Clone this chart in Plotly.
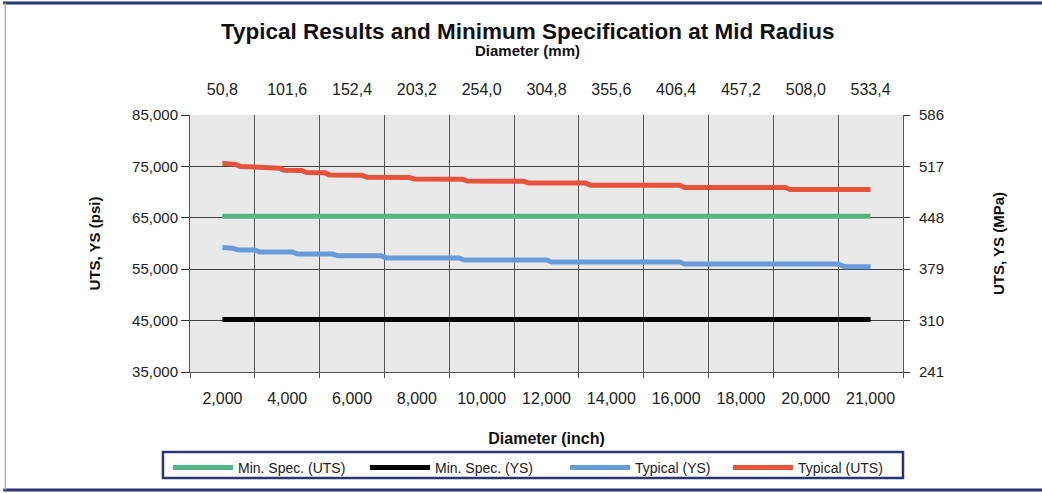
import plotly.graph_objects as go

# ---- data ----
inch_labels = ["2,000", "4,000", "6,000", "8,000", "10,000", "12,000", "14,000",
               "16,000", "18,000", "20,000", "21,000"]
mm_labels = ["50,8", "101,6", "152,4", "203,2", "254,0", "304,8", "355,6",
             "406,4", "457,2", "508,0", "533,4"]
psi_ticks = [35000, 45000, 55000, 65000, 75000, 85000]
mpa_labels = ["241", "310", "379", "448", "517", "586"]
PSI_TO_MPA = 0.00689476

# positions along the category axis (0 = first category, 10 = last)
min_uts_x = [0, 10]
min_uts_y = [65300, 65300]
min_ys_x = [0, 10]
min_ys_y = [45200, 45200]

typ_uts_x = [0, 0.1, 0.2, 0.28, 0.55, 0.62, 0.88, 0.95, 1.22, 1.3, 1.58, 1.65,
             2.15, 2.23, 2.88, 2.96, 3.7, 3.78, 4.65, 4.73, 5.6, 5.68, 7.05,
             7.13, 8.68, 8.76, 10]
typ_uts_y = [75600, 75500, 75400, 75000, 74900, 74700, 74650, 74250, 74200,
             73800, 73750, 73350, 73300, 72900, 72850, 72550, 72500, 72150,
             72100, 71750, 71750, 71350, 71350, 70900, 70900, 70500, 70500]

typ_ys_x = [0, 0.15, 0.25, 0.5, 0.58, 1.08, 1.16, 1.7, 1.78, 2.45, 2.53, 3.65,
            3.73, 5.0, 5.08, 7.05, 7.13, 9.5, 9.6, 10]
typ_ys_y = [59200, 59100, 58750, 58750, 58350, 58350, 57950, 57950, 57600,
            57600, 57200, 57200, 56800, 56800, 56400, 56400, 56000, 56000,
            55500, 55500]

cat_pos = list(range(len(inch_labels)))

GREEN = "#55b585"
BLACK = "#000000"
BLUE = "#6a9bd9"
RED = "#e8533c"
NAVY = "#2b3571"

fig = go.Figure()
fig.add_trace(go.Scatter(x=min_uts_x, y=min_uts_y, mode="lines", name="Min. Spec. (UTS)",
                         line=dict(color=GREEN, width=5), legend="legend"))
fig.add_trace(go.Scatter(x=min_ys_x, y=min_ys_y, mode="lines", name="Min. Spec. (YS)",
                         line=dict(color=BLACK, width=5), legend="legend"))
fig.add_trace(go.Scatter(x=typ_ys_x, y=typ_ys_y, mode="lines", name="Typical (YS)",
                         line=dict(color=BLUE, width=5), legend="legend2"))
fig.add_trace(go.Scatter(x=typ_uts_x, y=typ_uts_y, mode="lines", name="Typical (UTS)",
                         line=dict(color=RED, width=5), legend="legend2"))
# invisible helper traces so the secondary axes render
fig.add_trace(go.Scatter(x=[cat_pos[0]], y=[psi_ticks[0]], xaxis="x2", yaxis="y",
                         mode="markers", marker=dict(opacity=0), showlegend=False,
                         hoverinfo="skip"))
fig.add_trace(go.Scatter(x=[cat_pos[0]], y=[psi_ticks[0] * PSI_TO_MPA], xaxis="x", yaxis="y2",
                         mode="markers", marker=dict(opacity=0), showlegend=False,
                         hoverinfo="skip"))

FONT = "Liberation Sans Narrow, Arial Narrow, Liberation Sans, Arial, sans-serif"
FONT_REG = "Liberation Sans, Arial, sans-serif"

legend_common = dict(orientation="h", xanchor="left", y=-0.311, yanchor="top",
                     borderwidth=0, bgcolor="rgba(0,0,0,0)",
                     font=dict(family=FONT, size=14, color="#222"),
                     itemwidth=60, traceorder="normal", entrywidthmode="pixels")

fig.update_layout(
    width=1042, height=493,
    margin=dict(l=190, r=139, t=115, b=121, autoexpand=False),
    paper_bgcolor="white",
    plot_bgcolor="#e9e9e9",
    showlegend=True,
    legend=dict(x=-0.0309, entrywidth=122, **legend_common),
    legend2=dict(x=0.526, entrywidth=88, **legend_common),
    xaxis=dict(range=[-0.5, 10.5], tickmode="array", tickvals=cat_pos, ticktext=inch_labels,
               showgrid=False, ticks="", zeroline=False, ticklabelstandoff=12,
               tickfont=dict(family=FONT, size=16, color="#222"),
               showline=True, linecolor="#555", linewidth=1,
               minor=dict(tickmode="linear", tick0=-0.5, dtick=1, showgrid=True,
                          gridcolor="#555", gridwidth=1, ticks="outside",
                          ticklen=5, tickcolor="#555"),
               title=dict(text="<b>Diameter (inch)</b>", standoff=26,
                          font=dict(family=FONT, size=16, color="#111"))),
    xaxis2=dict(overlaying="x", side="top", range=[-0.5, 10.5], tickmode="array",
                tickvals=cat_pos, ticktext=mm_labels, showgrid=False, ticks="",
                zeroline=False, showline=False, ticklabelstandoff=16,
                tickfont=dict(family=FONT, size=16, color="#222")),
    yaxis=dict(range=[psi_ticks[0], psi_ticks[-1]], tickmode="array", tickvals=psi_ticks,
               tickformat=",", showgrid=True, gridcolor="#444", gridwidth=1,
               zeroline=False, showline=True, linecolor="#555", linewidth=1,
               ticks="outside", ticklen=8, tickcolor="#333",
               tickfont=dict(family=FONT_REG, size=15, color="#222"),
               title=dict(text="<b>UTS, YS (psi)</b>", standoff=27,
                          font=dict(family=FONT_REG, size=15, color="#111"))),
    yaxis2=dict(overlaying="y", side="right",
                range=[psi_ticks[0] * PSI_TO_MPA, psi_ticks[-1] * PSI_TO_MPA],
                tickmode="array", tickvals=[v * PSI_TO_MPA for v in psi_ticks],
                ticktext=mpa_labels, showgrid=False, zeroline=False,
                showline=True, linecolor="#555", linewidth=1,
                ticks="outside", ticklen=6, tickcolor="#333", ticklabelstandoff=6,
                tickfont=dict(family=FONT_REG, size=15, color="#222"),
                title=dict(text="<b>UTS, YS (MPa)</b>", standoff=50,
                           font=dict(family=FONT_REG, size=15, color="#111"))),
    annotations=[
        dict(text="<b>Typical Results and Minimum Specification at Mid Radius</b>",
             xref="paper", yref="paper", x=0.474, y=1.323, xanchor="center", yanchor="middle",
             showarrow=False, font=dict(family=FONT, size=22.5, color="#111")),
        dict(text="<b>Diameter (mm)</b>",
             xref="paper", yref="paper", x=0.474, y=1.25, xanchor="center", yanchor="middle",
             showarrow=False, font=dict(family=FONT, size=15, color="#111")),
    ],
    shapes=[
        # outer frame
        dict(type="line", xref="paper", yref="paper", x0=-0.262, x1=1.2, y0=1.436, y1=1.436,
             line=dict(color=NAVY, width=3)),
        dict(type="line", xref="paper", yref="paper", x0=-0.262, x1=1.2, y0=-0.459, y1=-0.459,
             line=dict(color=NAVY, width=3)),
        dict(type="line", xref="paper", yref="paper", x0=-0.259, x1=-0.259, y0=-0.459, y1=1.436,
             line=dict(color="#a4aac8", width=1.5)),
        # legend box
        dict(type="rect", xref="paper", yref="paper", x0=-0.0379, x1=1.0, y0=-0.412, y1=-0.311,
             line=dict(color=NAVY, width=2.5), fillcolor="rgba(0,0,0,0)"),
    ],
)

fig.write_html("out.html", config={"displayModeBar": False},
               post_script="document.body.style.margin='0';document.body.style.overflow='hidden';")
